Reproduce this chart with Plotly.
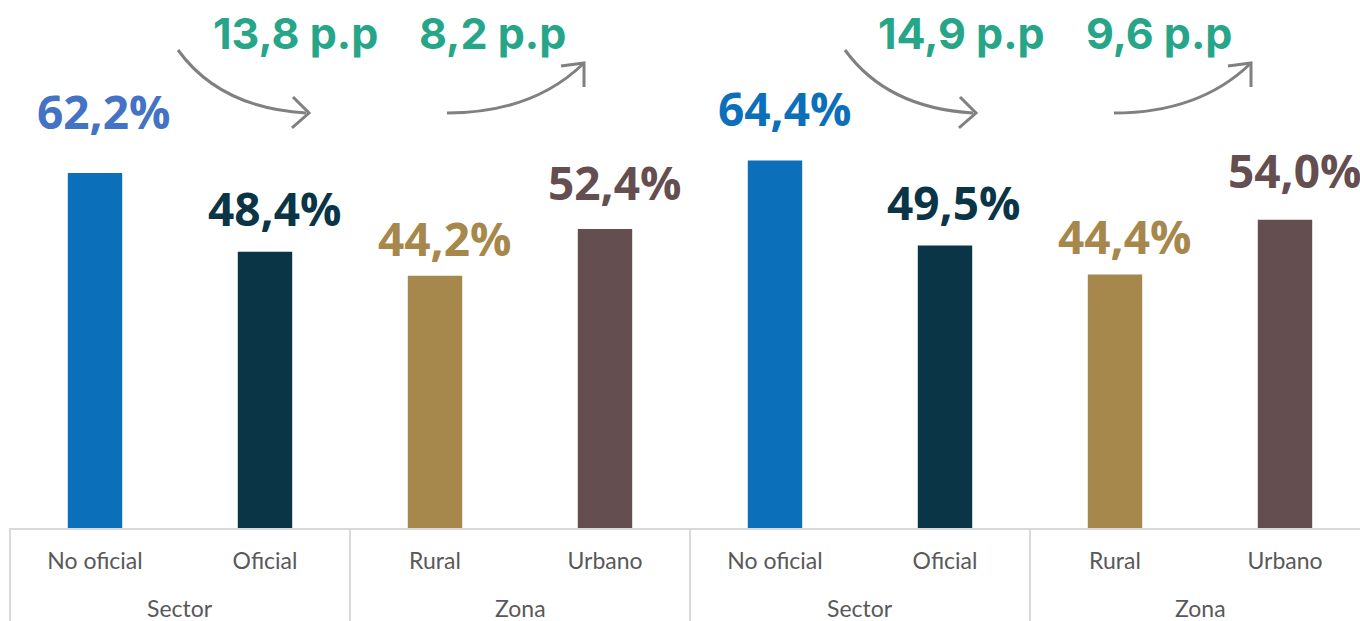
import plotly.graph_objects as go

# ---- data ----
groups = ["Sector", "Sector", "Zona", "Zona", "Sector", "Sector", "Zona", "Zona"]
categories = ["No oficial", "Oficial", "Rural", "Urbano", "No oficial", "Oficial", "Rural", "Urbano"]
values = [62.2, 48.4, 44.2, 52.4, 64.4, 49.5, 44.4, 54.0]
value_labels = ["62,2%", "48,4%", "44,2%", "52,4%", "64,4%", "49,5%", "44,4%", "54,0%"]
gap_labels = ["13,8 p.p", "8,2 p.p", "14,9 p.p", "9,6 p.p"]

# ---- styles ----
bar_colors = ["#0B6FBA", "#0A3547", "#A6874C", "#654E50", "#0B6FBA", "#0A3547", "#A6874C", "#654E50"]
label_colors = ["#4472C4", "#0A3547", "#A6874C", "#654E50", "#0B6FBA", "#0A3547", "#A6874C", "#654E50"]
label_shift = [62, 44, 38, 47, 52, 43, 39, 50]
TEAL = "#26A589"
GRAY = "#808080"
AXIS_GRAY = "#D9D9D9"
TICK_COLOR = "#595959"
W, H = 1360, 621
ML, MR, MT, MB = 10, 0, 0, 93
X_RANGE = [-0.5, -0.5 + (W - ML - MR) / 170.0]
Y_RANGE = [0, 92.5]

xidx = list(range(len(categories)))

fig = go.Figure()
fig.add_trace(go.Bar(
    x=xidx,
    y=values,
    marker=dict(color=bar_colors, line=dict(width=0)),
    width=0.32,
    hoverinfo="skip",
))

PH = H - MT - MB
PW = W - ML - MR

def xpaper(i):
    return (i - X_RANGE[0]) / (X_RANGE[1] - X_RANGE[0])

# value labels
for i, (v, t) in enumerate(zip(values, value_labels)):
    fig.add_annotation(
        x=xpaper(i), xref="paper", y=v, yref="y",
        text=t, showarrow=False, xanchor="center", yanchor="middle",
        xshift=9, yshift=label_shift[i],
        font=dict(family="Open Sans", size=46, color=label_colors[i], weight="bold"),
    )

# group labels + dividers (derived from the groups list)
runs = []
start = 0
for i in range(1, len(groups) + 1):
    if i == len(groups) or groups[i] != groups[start] or (i - start) == 2:
        runs.append((groups[start], start, i - 1))
        start = i
shapes = []
bounds = set()
for name, a, b in runs:
    fig.add_annotation(
        x=xpaper((a + b) / 2), xref="paper", y=-80 / PH, yref="paper",
        text=name, showarrow=False, xanchor="center", yanchor="middle",
        font=dict(family="Lato", size=23, color=TICK_COLOR),
    )
    bounds.add(a - 0.5)
    bounds.add(b + 0.5)
for bx in sorted(bounds):
    shapes.append(dict(type="line", xref="paper", yref="paper",
                       x0=xpaper(bx), x1=xpaper(bx), y0=0, y1=-MB / PH,
                       line=dict(color=AXIS_GRAY, width=2)))

# pixel helpers for decorative arrows
def P(px, py):
    return f"{(px - ML) / PW:.5f},{(PH - (py - MT)) / PH:.5f}"

def ppx(px):
    return (px - ML) / PW

def ppy(py):
    return (PH - (py - MT)) / PH

gap_pos = [295, 492, 962, 1159]
for t, cx in zip(gap_labels, gap_pos):
    fig.add_annotation(
        x=ppx(cx), y=ppy(33), xref="paper", yref="paper",
        text=t, showarrow=False, xanchor="center", yanchor="middle",
        font=dict(family="Inter", size=43, color=TEAL, weight="bold"),
    )

for dx in (0, 667):
    d1 = f"M {P(178+dx, 50)} Q {P(220+dx, 108)} {P(306+dx, 113)}"
    h1 = f"M {P(293+dx, 97)} L {P(309+dx, 113)} L {P(292+dx, 128)}"
    d2 = f"M {P(447+dx, 113)} Q {P(532+dx, 113)} {P(583+dx, 64)}"
    h2 = f"M {P(561+dx, 66)} L {P(584+dx, 63)} L {P(584+dx, 87)}"
    for p in (d1, h1, d2, h2):
        shapes.append(dict(type="path", path=p, xref="paper", yref="paper",
                           line=dict(color=GRAY, width=3), layer="above"))

fig.update_layout(
    width=W, height=H,
    margin=dict(l=ML, r=MR, t=MT, b=MB),
    paper_bgcolor="white", plot_bgcolor="white",
    showlegend=False,
    shapes=shapes,
    xaxis=dict(
        range=X_RANGE,
        tickmode="array", tickvals=xidx, ticktext=categories,
        showline=True, linecolor=AXIS_GRAY, linewidth=2,
        showgrid=False, zeroline=False,
        ticks="outside", tickcolor="rgba(0,0,0,0)", ticklen=11,
        tickfont=dict(family="Lato", size=23, color=TICK_COLOR),
    ),
    yaxis=dict(range=Y_RANGE, visible=False, showgrid=False),
)

fig.write_html("out.html", config={"displayModeBar": False},
               post_script="document.body.style.margin='0';")
